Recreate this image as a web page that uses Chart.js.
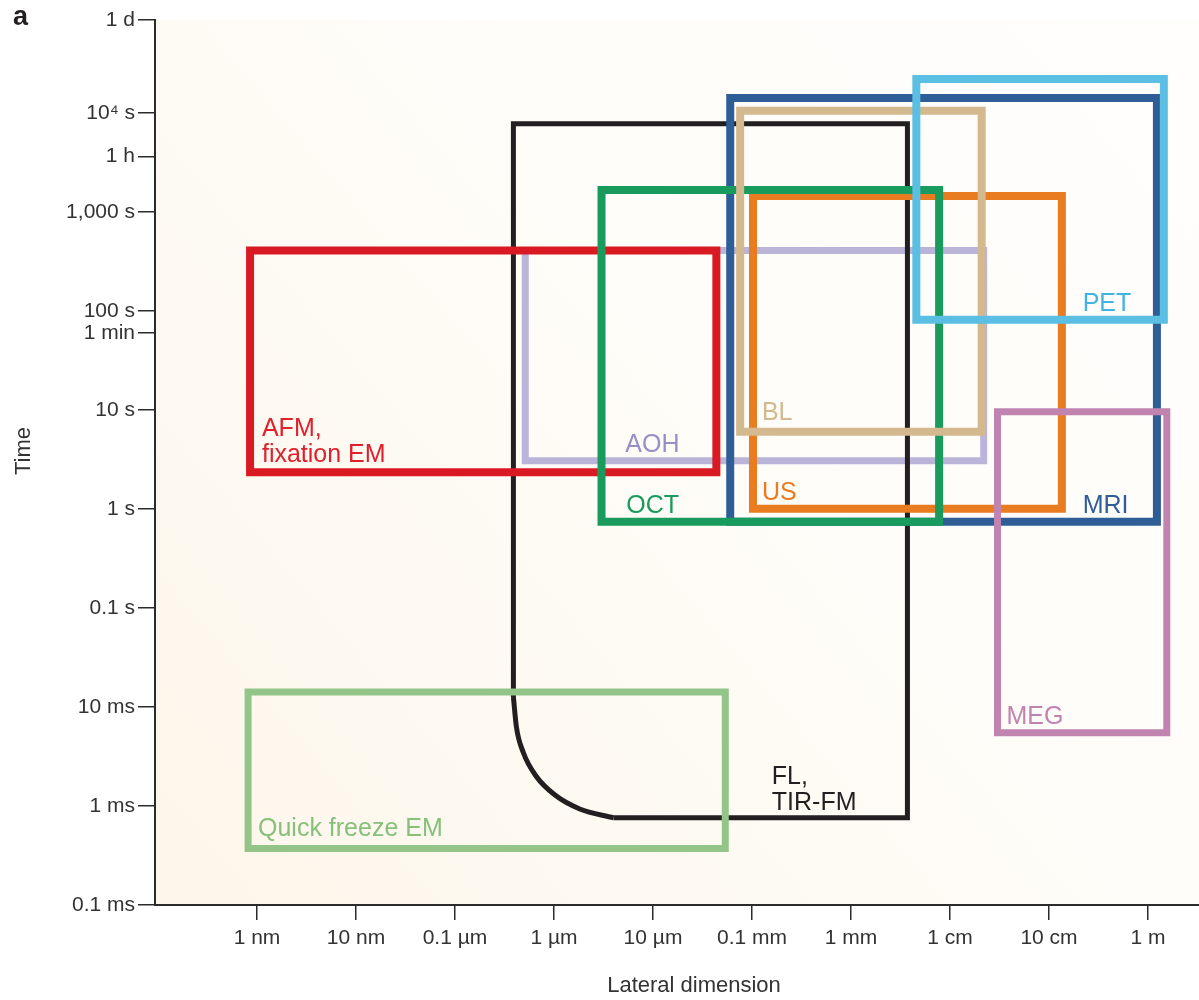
<!DOCTYPE html>
<html>
<head>
<meta charset="utf-8">
<script src="https://cdn.jsdelivr.net/npm/chart.js@4.4.1/dist/chart.umd.min.js"></script>
<style>
  body { margin: 0; background: #fff; }
  canvas { display: block; }
</style>
</head>
<body>
<canvas id="chart" width="1199" height="1000"></canvas>
<script>
// all values are log10: lateral size in metres, time in seconds
const boxNames = ['AOH', 'FL, TIR-FM', 'AFM, fixation EM', 'Quick freeze EM', 'MRI', 'US', 'OCT', 'BL', 'PET', 'MEG'];
const sizeMin = [-6.29, -6.41, -9.07, -9.09, -4.22, -3.99, -5.52, -4.12, -2.34, -1.52];
const sizeMax = [-1.66, -2.43, -4.36, -4.27, 0.09, -0.87, -2.11, -1.68, 0.16, 0.19];
const timeMin = [0.485, -3.12, 0.37, -3.43, -0.13, 0.0, -0.13, 0.78, 1.91, -2.26];
const timeMax = [2.61, 3.89, 2.61, -1.85, 4.15, 3.16, 3.22, 4.02, 4.34, 0.98];
const boxColors = ['#bab5d8', '#231f20', '#da1a23', '#93c488', '#2f5d96', '#e97b20', '#189b5c', '#d4b98f', '#5bbfe3', '#c184b1'];
const boxWidths = [7, 5, 8, 7, 8, 8, 8, 8, 8, 7];

// rounded lower-left corner of the FL box
const flCurveSize = [-6.41, -6.38, -6.31, -6.18, -5.99, -5.74, -5.40];
const flCurveTime = [-1.90, -2.20, -2.46, -2.70, -2.89, -3.03, -3.12];

// text labels: anchor (left, baseline of first line)
const labelLines = [['AOH'], ['FL,', 'TIR-FM'], ['AFM,', 'fixation EM'], ['Quick freeze EM'], ['MRI'], ['US'], ['OCT'], ['BL'], ['PET'], ['MEG']];
const labelSize = [-5.28, -3.80, -8.95, -8.99, -0.66, -3.90, -5.27, -3.90, -0.66, -1.43];
const labelTime = [0.57, -2.78, 0.74, -3.30, -0.04, 0.09, -0.04, 0.90, 2.00, -2.17];
const labelColors = ['#968fc6', '#231f20', '#e0202b', '#86c07a', '#2f5d96', '#e97b20', '#189b5c', '#d4b98f', '#3fb4e2', '#c184b1'];

const sizeTicks = [-9, -8, -7, -6, -5, -4, -3, -2, -1, 0];
const sizeTickLabels = ['1 nm', '10 nm', '0.1 \u00b5m', '1 \u00b5m', '10 \u00b5m', '0.1 mm', '1 mm', '1 cm', '10 cm', '1 m'];
const timeTicks = [-4, -3, -2, -1, 0, 1, Math.log10(60), 2, 3, Math.log10(3600), 4, Math.log10(86400)];
const timeTickLabels = ['0.1 ms', '1 ms', '10 ms', '0.1 s', '1 s', '10 s', '1 min', '100 s', '1,000 s', '1 h', '10\u2074 s', '1 d'];

const FONT = '"Liberation Sans", Arial, Helvetica, sans-serif';
const AXIS = '#2b2b2b';

function boxPoints(i) {
    let x0 = sizeMin[i], x1 = sizeMax[i], y0 = timeMin[i], y1 = timeMax[i];
    if (boxNames[i].startsWith('FL')) {
        // open outline: top of the curve, round the top, down the right, back to the curve foot
        const last = flCurveSize.length - 1;
        return [{x: flCurveSize[0], y: flCurveTime[0]}, {x: x0, y: y1}, {x: x1, y: y1},
                {x: x1, y: y0}, {x: flCurveSize[last], y: flCurveTime[last]}];
    }
    // repeat the first edge so the closing corner gets a clean miter
    return [{x: x0, y: y1}, {x: x1, y: y1}, {x: x1, y: y0}, {x: x0, y: y0}, {x: x0, y: y1}, {x: x1, y: y1}];
}

const datasets = boxNames.map((name, i) => ({
    label: name,
    data: boxPoints(i),
    showLine: true,
    borderColor: boxColors[i],
    borderWidth: boxWidths[i],
    borderJoinStyle: 'miter',
    borderCapStyle: 'butt',
    pointRadius: 0,
    fill: false,
    tension: 0,
    order: boxNames.length - i
}));

const fl = boxNames.findIndex(n => n.startsWith('FL'));
datasets.push({
    label: 'FL curve',
    data: flCurveSize.map((v, k) => ({x: v, y: flCurveTime[k]})),
    showLine: true,
    borderColor: boxColors[fl],
    borderWidth: boxWidths[fl],
    borderCapStyle: 'butt',
    pointRadius: 0,
    fill: false,
    cubicInterpolationMode: 'monotone',
    order: boxNames.length - fl
});

const decor = {
    id: 'decor',
    beforeDraw(chart) {
        const {ctx, chartArea: a} = chart;
        const g = ctx.createLinearGradient(a.right, a.top, a.left, a.bottom);
        g.addColorStop(0, '#fffefd');
        g.addColorStop(0.5, '#fefcf7');
        g.addColorStop(1, '#fdf6ea');
        ctx.save();
        ctx.fillStyle = g;
        ctx.fillRect(a.left, a.top, a.right - a.left, a.bottom - a.top);
        ctx.restore();
    },
    afterDraw(chart) {
        const {ctx} = chart;
        ctx.save();
        ctx.fillStyle = '#231f20';
        ctx.font = 'bold 27px ' + FONT;
        ctx.fillText('a', 13, 25);
        ctx.fillStyle = '#333';
        ctx.font = '22px ' + FONT;
        ctx.textAlign = 'center';
        ctx.textBaseline = 'middle';
        ctx.fillText('Lateral dimension', 694, 986);
        ctx.translate(24, 451);
        ctx.rotate(-Math.PI / 2);
        ctx.fillText('Time', 0, 0);
        ctx.restore();
    }
};

const boxLabels = {
    id: 'boxLabels',
    afterDatasetsDraw(chart) {
        const {ctx, scales} = chart;
        ctx.save();
        ctx.font = '25px ' + FONT;
        ctx.textBaseline = 'alphabetic';
        labelLines.forEach((lines, i) => {
            const px = scales.x.getPixelForValue(labelSize[i]);
            const py = scales.y.getPixelForValue(labelTime[i]);
            ctx.fillStyle = labelColors[i];
            lines.forEach((t, k) => ctx.fillText(t, px, py + k * 26));
        });
        ctx.restore();
    }
};

new Chart(document.getElementById('chart'), {
    type: 'scatter',
    data: { datasets },
    options: {
        responsive: false,
        animation: false,
        layout: { padding: { top: 20, right: 0, left: 0, bottom: 0 } },
        plugins: { legend: { display: false }, tooltip: { enabled: false } },
        scales: {
            x: {
                type: 'linear',
                min: -9 - 102 / 99,
                max: -9 + 942 / 99,
                afterBuildTicks: s => { s.ticks = sizeTicks.map(v => ({ value: v })); },
                afterFit: s => { s.height = 95; },
                ticks: {
                    callback: (v, i) => sizeTickLabels[i],
                    font: { family: FONT, size: 21 },
                    color: '#333',
                    padding: 6,
                    maxRotation: 0,
                    autoSkip: false
                },
                grid: { drawOnChartArea: false, tickLength: 15, color: AXIS, lineWidth: 1.5 },
                border: { color: AXIS, width: 2 }
            },
            y: {
                type: 'linear',
                min: -4,
                max: Math.log10(86400),
                afterBuildTicks: s => { s.ticks = timeTicks.map(v => ({ value: v })); },
                afterFit: s => { s.width = 155; },
                ticks: {
                    callback: (v, i) => timeTickLabels[i],
                    font: { family: FONT, size: 21 },
                    color: '#333',
                    padding: 3,
                    autoSkip: false
                },
                grid: { drawOnChartArea: false, tickLength: 17, color: AXIS, lineWidth: 1.5 },
                border: { color: AXIS, width: 2 }
            }
        }
    },
    plugins: [decor, boxLabels]
});
</script>
</body>
</html>
